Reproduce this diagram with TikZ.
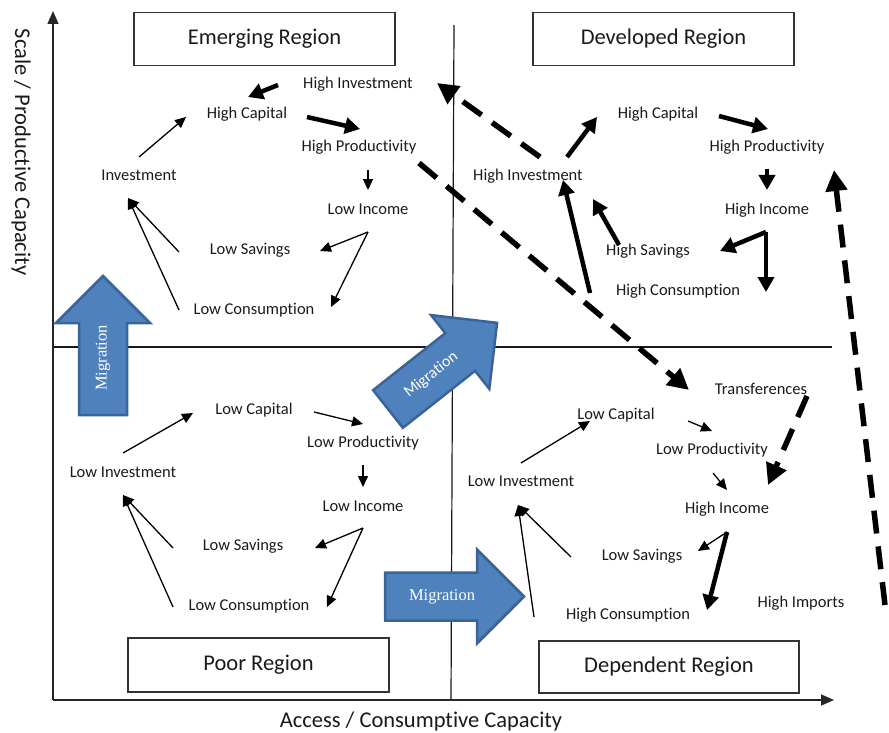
\documentclass[tikz,border=0pt]{standalone}
\usepackage{fontspec}
\setmainfont{Carlito}[Ligatures={TeX,CommonOff}]
\newfontfamily\timesfont{Liberation Serif}
\usetikzlibrary{arrows.meta,calc}
\definecolor{migblue}{HTML}{4F81BD}
\definecolor{migedge}{HTML}{3A6497}
\definecolor{ink}{HTML}{1A1A1A}
\begin{document}
\begin{tikzpicture}[x=1pt,y=-1pt,
  lbl/.style={inner sep=0pt, text=ink, font=\fontsize{16.5}{18}\selectfont},
  regbox/.style={draw=black!80, line width=1.3pt, minimum width=261pt, minimum height=53pt, inner sep=0pt, text=ink, font=\fontsize{22.5}{26}\selectfont},
  axlbl/.style={inner sep=0pt, text=ink, font=\fontsize{22.5}{26}\selectfont},
  axisline/.style={line width=1.5pt, draw=black!85, -{Triangle[length=13pt,width=11pt]}},
  midline/.style={line width=1.2pt, draw=black!90},
  thinarr/.style={line width=1.3pt, -{Triangle[length=11pt,width=10pt]}},
  thickarr/.style={line width=4.5pt, -{Triangle[length=15pt,width=16pt]}},
  dasharr/.style={line width=5.5pt, dash pattern=on 23pt off 13pt, -{Triangle[length=21pt,width=21pt]}},
  migr/.style={fill=migblue, draw=migedge, line width=2.5pt, line join=miter},
  migtxt/.style={transform shape, inner sep=0pt, text=white},
]
\useasboundingbox (0,0) rectangle (889,733);

% axes and quadrant lines
\coordinate (O) at (53,700);
\coordinate (ytop) at (53,11);
\coordinate (xend) at (834,700);
\coordinate (vt) at (454,25);
\coordinate (vb) at (451,700);
\coordinate (hl) at (53,347);
\coordinate (hr) at (832,347);
\draw[midline] (vt) -- (vb);
\draw[midline] (hl) -- (hr);
\draw[axisline] (O) -- (ytop);
\draw[axisline] (O) -- (xend);

\node[axlbl, rotate=-90] (ylab) at (21,152) {Scale / Productive Capacity};
\node[axlbl] (xlab) at (421,721) {Access / Consumptive Capacity};

% region boxes
\node[regbox] (emerg) at (264.5,39) {Emerging Region};
\node[regbox] (devel) at (663.5,39) {Developed Region};
\node[regbox, minimum height=54pt] (poor) at (258.5,665) {Poor Region};
\node[regbox, minimum width=260pt, minimum height=52pt] (depend) at (669,667) {Dependent Region};

% migration arrows
\begin{scope}[shift={(103,415)}, rotate=90]
  \draw[migr] (0,-24) -- (92,-24) -- (92,-47) -- (139,0) -- (92,47) -- (92,24) -- (0,24) -- cycle;
  \node[migtxt, font=\timesfont\fontsize{16.5}{18}\selectfont] (mig1) at (57,0) {Migration};
\end{scope}
\begin{scope}[shift={(388,409)}, rotate=38.3]
  \draw[migr] (0,-24) -- (92,-24) -- (92,-47) -- (139,0) -- (92,47) -- (92,24) -- (0,24) -- cycle;
  \node[migtxt, font=\fontsize{16}{18}\selectfont] (mig2) at (55,0) {Migration};
\end{scope}
\begin{scope}[shift={(385,596.5)}]
  \draw[migr] (0,-24) -- (92,-24) -- (92,-47) -- (139,0) -- (92,47) -- (92,24) -- (0,24) -- cycle;
  \node[migtxt, font=\timesfont\fontsize{16.5}{18}\selectfont] (mig3) at (57,0) {Migration};
\end{scope}

% Emerging region
\node[lbl] (eHI) at (358,84) {High Investment};
\node[lbl] (eHC) at (247,114) {High Capital};
\node[lbl] (eHP) at (359,147) {High Productivity};
\node[lbl] (eInv) at (139,175) {Investment};
\node[lbl] (eLI) at (368,209) {Low Income};
\node[lbl] (eLS) at (250,250) {Low Savings};
\node[lbl] (eLC) at (254,310) {Low Consumption};

\draw[thickarr] ($(eHI)+(-80,1)$) -- ($(eHC)+(1,-17)$);
\draw[thickarr] ($(eHC)+(60,3)$) -- ($(eHP)+(1,-18)$);
\draw[thinarr] ($(eHP)+(9,23)$) -- ($(eLI)+(0,-19)$);
\draw[thinarr] ($(eLI)+(0,23)$) -- ($(eLS)+(70,1)$);
\draw[thinarr] ($(eLI)+(0,23)$) -- ($(eLC)+(77,-3)$);
\draw[thinarr] ($(eLS)+(-71,2)$) -- ($(eInv)+(-11,23)$);
\draw[thinarr] ($(eLC)+(-75,0)$) -- ($(eInv)+(-11,23)$);
\draw[thinarr] ($(eInv)+(0,-18)$) -- ($(eHC)+(-61,3)$);

% Developed region
\node[lbl] (dHC) at (658,114) {High Capital};
\node[lbl] (dHP) at (767,147) {High Productivity};
\node[lbl] (dHI) at (528,176) {High Investment};
\node[lbl] (dHIn) at (767,210) {High Income};
\node[lbl] (dHS) at (648,251) {High Savings};
\node[lbl] (dHCo) at (678,291) {High Consumption};

\draw[thickarr] ($(dHI)+(39,-19)$) -- ($(dHC)+(-61,3)$);
\draw[thickarr] ($(dHC)+(61,2)$) -- ($(dHP)+(1,-18)$);
\draw[thickarr] ($(dHP)+(0,22)$) -- ($(dHIn)+(0,-20)$);
\draw[thickarr] ($(dHIn)+(-1,22)$) -- ($(dHS)+(72,0)$);
\draw[thickarr] ($(dHIn)+(-1,22)$) -- ($(dHCo)+(88,1)$);
\draw[thickarr] ($(dHS)+(-29,-6)$) -- ($(dHI)+(65,23)$);
\draw[thickarr] ($(dHCo)+(-88,2)$) -- ($(dHI)+(35,4)$);

% Poor region
\node[lbl] (pLC) at (254,410) {Low Capital};
\node[lbl] (pLP) at (363,443) {Low Productivity};
\node[lbl] (pLInv) at (123,472) {Low Investment};
\node[lbl] (pLI) at (363,506) {Low Income};
\node[lbl] (pLS) at (243,546) {Low Savings};
\node[lbl] (pLCo) at (249,606) {Low Consumption};

\draw[thinarr] ($(pLInv)+(0,-19)$) -- ($(pLC)+(-61,3)$);
\draw[thinarr] ($(pLC)+(60,2)$) -- ($(pLP)+(0,-19)$);
\draw[thinarr] ($(pLP)+(0,22)$) -- ($(pLI)+(0,-19)$);
\draw[thinarr] ($(pLI)+(0,22)$) -- ($(pLS)+(72,2)$);
\draw[thinarr] ($(pLI)+(0,22)$) -- ($(pLCo)+(78,1)$);
\draw[thinarr] ($(pLS)+(-70,2)$) -- ($(pLInv)+(0,23)$);
\draw[thinarr] ($(pLCo)+(-76,1)$) -- ($(pLInv)+(0,23)$);

% Dependent region
\node[lbl] (qT) at (761,389) {Transferences};
\node[lbl] (qLC) at (616,415) {Low Capital};
\node[lbl] (qLP) at (712,450) {Low Productivity};
\node[lbl] (qLInv) at (521,481) {Low Investment};
\node[lbl] (qHI) at (727,509) {High Income};
\node[lbl] (qLS) at (642,556) {Low Savings};
\node[lbl] (qHCo) at (628,615) {High Consumption};
\node[lbl] (qHIm) at (801,603) {High Imports};

\draw[thinarr] ($(qLInv)+(0,-18)$) -- ($(qLC)+(-26,6)$);
\draw[thinarr] ($(qLC)+(72,6)$) -- ($(qLP)+(0,-19)$);
\draw[thinarr] ($(qLP)+(1,23)$) -- ($(qHI)+(0,-19)$);
\draw[thinarr] ($(qHI)+(0,23)$) -- ($(qLS)+(56,-5)$);
\draw[thickarr] ($(qHI)+(0,23)$) -- ($(qHCo)+(79,-5)$);
\draw[thinarr] ($(qLS)+(-71,1)$) -- ($(qLInv)+(-3,24)$);
\draw[thinarr] ($(qHCo)+(-94,2)$) -- ($(qLInv)+(-3,24)$);

% dashed flows
\draw[dasharr] ($(dHI)+(12,-19)$) -- ($(eHI)+(79,-1)$);
\draw[dasharr] ($(eHP)+(60,16)$) -- ($(qT)+(-72,1)$);
\draw[dasharr] ($(qT)+(46,7)$) -- ($(qHI)+(41,-24)$);
\draw[dasharr] ($(qHIm)+(84,2)$) -- ($(dHP)+(67,23)$);
\end{tikzpicture}
\end{document}
